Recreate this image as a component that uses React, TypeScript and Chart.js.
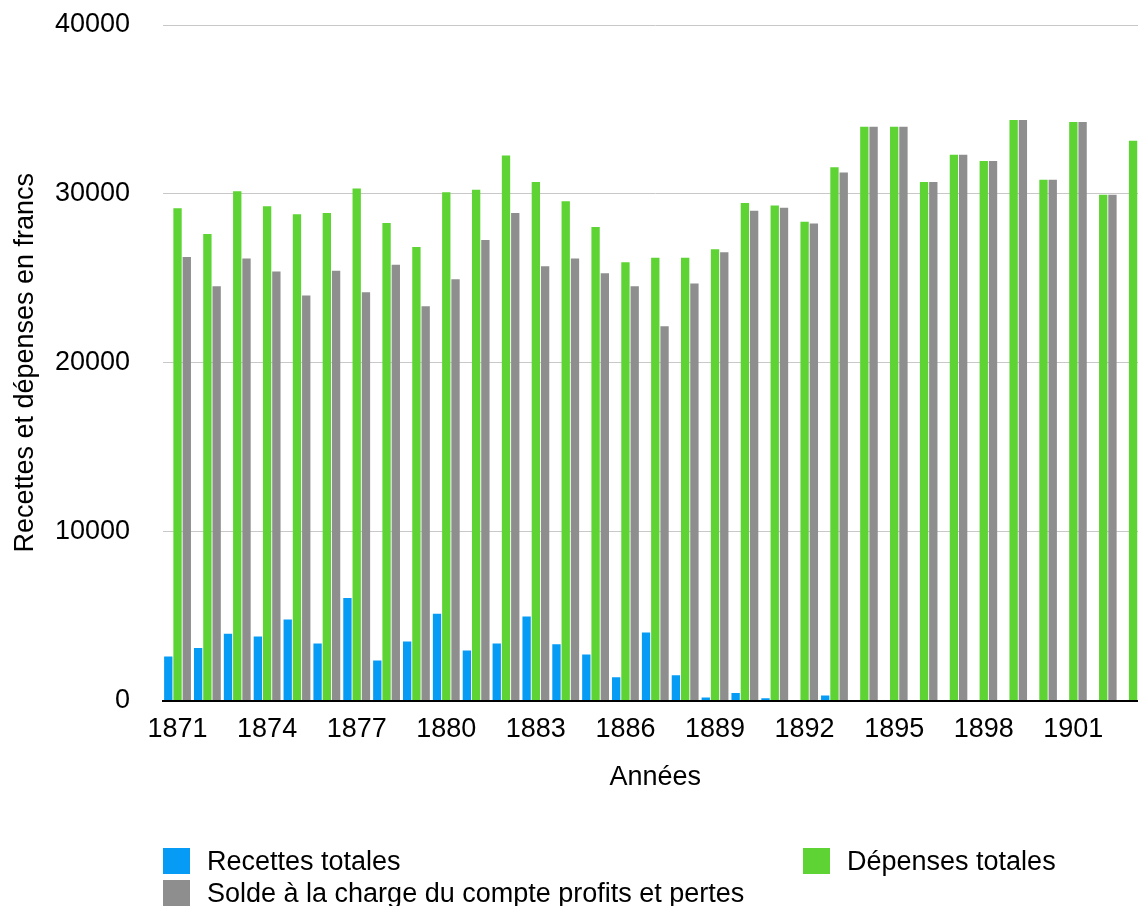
import React, { useEffect, useRef } from 'react';
import { Chart, registerables } from 'chart.js';

Chart.register(...registerables);

const years = [
  '1871', '1872', '1873', '1874', '1875', '1876', '1877', '1878', '1879', '1880',
  '1881', '1882', '1883', '1884', '1885', '1886', '1887', '1888', '1889', '1890',
  '1891', '1892', '1893', '1894', '1895', '1896', '1897', '1898', '1899', '1900',
  '1901', '1902', '1903',
];

const recettes = [
  2610, 3110, 3950, 3790, 4800, 3380, 6070, 2370, 3490, 5130,
  2960, 3380, 4980, 3330, 2720, 1380, 4030, 1490, 175, 440,
  130, 0, 300, 0, 0, 0, 0, 0, 0, 0,
  0, 0, 0,
];

const depenses = [
  29150, 27620, 30160, 29260, 28800, 28870, 30320, 28280, 26850, 30100,
  30250, 32270, 30710, 29570, 28040, 25950, 26220, 26220, 26720, 29460,
  29310, 28345, 31580, 33970, 33970, 30700, 32320, 31940, 34380, 30830,
  34260, 29950, 33150,
];

const solde = [
  26260, 24530, 26170, 25400, 23980, 25450, 24180, 25800, 23345, 24945,
  27270, 28870, 25710, 26170, 25300, 24530, 22160, 24700, 26545, 29000,
  29175, 28245, 31260, 33970, 33970, 30700, 32320, 31940, 34380, 30830,
  34260, 29950, 33150,
];

const seriesLabels = [
  'Recettes totales',
  'Dépenses totales',
  'Solde à la charge du compte profits et pertes',
];

const BLUE = '#069cf6';
const GREEN = '#5dd433';
const GRAY = '#8e8e8e';
const FONT = "'Liberation Sans', Arial, Helvetica, sans-serif";
const FONT_SIZE = 27;

const legendPlugin = {
  id: 'customLegend',
  afterDraw(chart: any) {
    const ctx = chart.ctx as CanvasRenderingContext2D;
    const slots = [
      { ds: 0, x: 163, y: 848 },
      { ds: 1, x: 803, y: 848 },
      { ds: 2, x: 163, y: 880 },
    ];
    ctx.save();
    ctx.font = `${FONT_SIZE}px ${FONT}`;
    ctx.textBaseline = 'middle';
    ctx.textAlign = 'left';
    for (const s of slots) {
      const ds = chart.data.datasets[s.ds];
      ctx.fillStyle = ds.backgroundColor;
      ctx.fillRect(s.x, s.y, 27, 26);
      ctx.fillStyle = '#000';
      ctx.fillText(ds.label, s.x + 44, s.y + 15);
    }
    ctx.restore();
  },
};

export default function App() {
  const ref = useRef<HTMLCanvasElement>(null);

  useEffect(() => {
    const canvas = ref.current;
    if (!canvas) return;
    const chart = new Chart(canvas, {
      type: 'bar',
      data: {
        labels: years,
        datasets: [
          { label: seriesLabels[0], data: recettes, backgroundColor: BLUE },
          { label: seriesLabels[1], data: depenses, backgroundColor: GREEN },
          { label: seriesLabels[2], data: solde, backgroundColor: GRAY },
        ],
      },
      options: {
        animation: false,
        responsive: false,
        devicePixelRatio: 1,
        layout: { padding: { top: 25, left: 0, right: 0, bottom: 0 } },
        datasets: { bar: { categoryPercentage: 0.93, barPercentage: 0.9 } },
        plugins: {
          legend: { display: false },
          tooltip: { enabled: false },
        },
        scales: {
          x: {
            grid: { display: false, drawTicks: false },
            border: { display: true, color: '#000', width: 2 },
            ticks: {
              autoSkip: false,
              maxRotation: 0,
              minRotation: 0,
              padding: 13,
              color: '#000',
              font: { family: FONT, size: FONT_SIZE },
              callback: (_v: any, i: number) => (i % 3 === 0 ? years[i] : ''),
            },
            title: {
              display: true,
              text: 'Années',
              color: '#000',
              font: { family: FONT, size: FONT_SIZE },
              padding: { top: 0, bottom: 112 },
            },
            afterFit: (s: any) => {
              s.height = 205.5;
            },
          },
          y: {
            min: 0,
            max: 40000,
            border: { display: false },
            grid: {
              drawTicks: true,
              tickLength: 32,
              tickColor: 'rgba(0,0,0,0)',
              lineWidth: 1,
              color: (c: any) => (c.tick && c.tick.value === 0 ? 'rgba(0,0,0,0)' : '#c8c8c8'),
            },
            ticks: {
              stepSize: 10000,
              padding: 0.6,
              color: '#000',
              font: { family: FONT, size: FONT_SIZE },
              callback: (v: any) => String(v),
            },
            title: {
              display: true,
              text: 'Recettes et dépenses en francs',
              color: '#000',
              font: { family: FONT, size: FONT_SIZE },
              padding: { top: 9, bottom: 0 },
            },
            afterFit: (s: any) => {
              s.width = 162.6;
            },
          },
        },
      },
      plugins: [legendPlugin],
    });
    return () => chart.destroy();
  }, []);

  return (
    <div
      style={{
        position: 'fixed',
        left: 0,
        top: 0,
        width: 1138,
        height: 906,
        overflow: 'hidden',
        background: '#fff',
      }}
    >
      <canvas
        ref={ref}
        width={1148}
        height={906}
        style={{ position: 'absolute', left: 0, top: 0, width: 1148, height: 906 }}
      />
    </div>
  );
}
